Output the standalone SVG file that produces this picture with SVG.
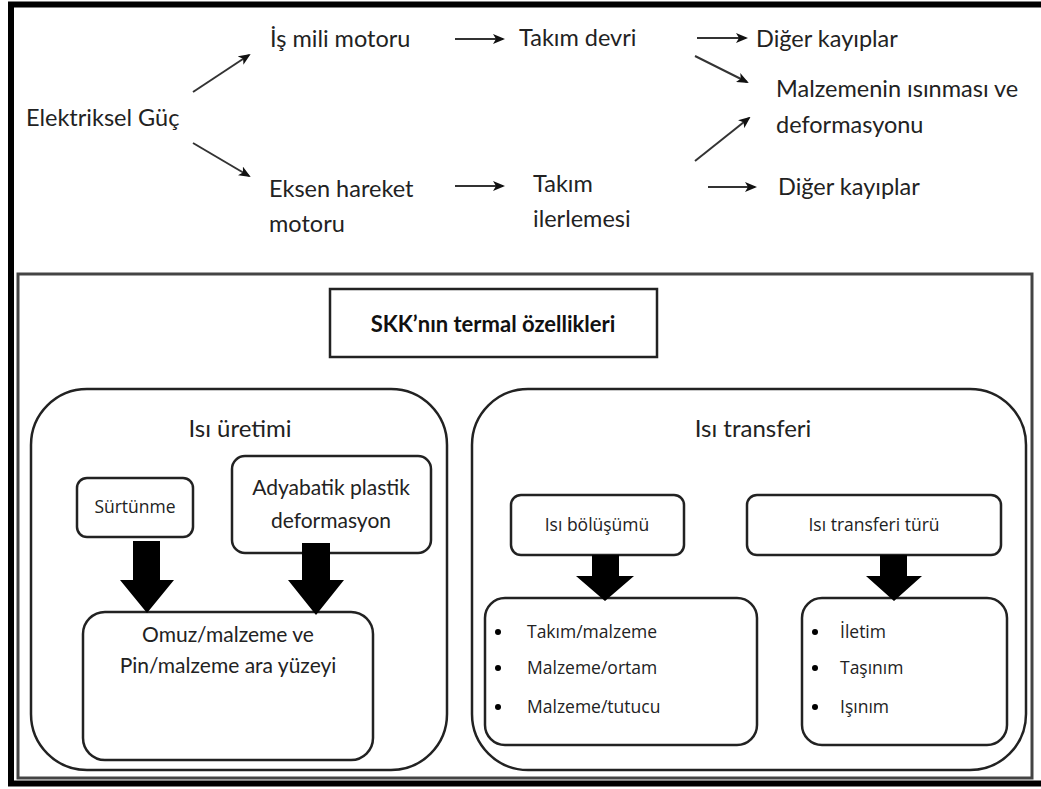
<svg xmlns="http://www.w3.org/2000/svg" width="1041" height="789" viewBox="0 0 1041 789">
<defs>
<marker id="ah" markerWidth="12" markerHeight="10" refX="10" refY="5" orient="auto" markerUnits="userSpaceOnUse">
<path d="M0,0 L12,5 L0,10 L3,5 z" fill="#111"/>
</marker>
<style>
.t{font-family:Lato,"Liberation Sans",sans-serif;font-size:23.5px;fill:#222}
.u{font-family:Lato,"Liberation Sans",sans-serif;font-size:24px;fill:#222}
.s{font-family:"Open Sans","Liberation Sans",sans-serif;font-size:17.5px;fill:#222}
.m{font-family:Lato,"Liberation Sans",sans-serif;font-size:21px;fill:#222}
.c{text-anchor:middle}
.box{fill:#fff;stroke:#222;stroke-width:2.5}
.ln{stroke:#333;stroke-width:2;fill:none;marker-end:url(#ah)}
.blk{fill:#000}
</style>
</defs>
<rect width="1041" height="789" fill="#fff"/>
<path d="M1041,4.5 H11 V783.5 H1041" fill="none" stroke="#000" stroke-width="6"/>
<rect x="18" y="274" width="1014" height="504" fill="none" stroke="#444" stroke-width="3"/>

<g id="n-elektriksel"><text class="t" x="26" y="126">Elektriksel Güç</text></g>
<g id="n-ismili"><text class="t" x="270" y="47">İş mili motoru</text></g>
<g id="n-eksen"><text class="t" x="269" y="197">Eksen hareket</text><text class="t" x="269" y="232">motoru</text></g>
<g id="n-takimdevri"><text class="t" x="519" y="46">Takım devri</text></g>
<g id="n-takimiler"><text class="t" x="533" y="192">Takım</text><text class="t" x="533" y="227">ilerlemesi</text></g>
<g id="n-diger1"><text class="t" x="756" y="47">Diğer kayıplar</text></g>
<g id="n-malzemenin"><text class="t" x="776" y="97">Malzemenin ısınması ve</text><text class="t" x="776" y="133">deformasyonu</text></g>
<g id="n-diger2"><text class="t" x="778" y="195">Diğer kayıplar</text></g>

<g id="n-skk"><rect x="330" y="289" width="327" height="68" fill="#fff" stroke="#222" stroke-width="2.5"/><text x="493" y="332" class="c" style="font-family:Lato,'Liberation Sans',sans-serif;font-size:22px;font-weight:bold;fill:#111">SKK’nın termal özellikleri</text></g>

<g id="n-isiuretimi"><rect class="box" x="31" y="389" width="416" height="381" rx="56"/><text class="u c" x="240" y="437">Isı üretimi</text></g>
<g id="n-isitransferi"><rect class="box" x="472" y="389" width="554" height="381" rx="56"/><text class="u c" x="753" y="437">Isı transferi</text></g>

<g id="n-surtunme"><rect class="box" x="77" y="478" width="116" height="59" rx="10"/><text class="s c" x="135" y="513">Sürtünme</text></g>
<g id="n-adyabatik"><rect class="box" x="232" y="456" width="199" height="97" rx="13"/><text class="m c" x="331" y="495">Adyabatik plastik</text><text class="m c" x="331" y="528">deformasyon</text></g>
<g id="n-omuz"><rect class="box" x="83" y="612" width="290" height="148" rx="22"/><text class="m c" x="228" y="642">Omuz/malzeme ve</text><text class="m c" x="228" y="673">Pin/malzeme ara yüzeyi</text></g>

<g id="n-bolusumu"><rect class="box" x="511" y="495" width="173" height="60" rx="10"/><text class="s c" x="597" y="531">Isı bölüşümü</text></g>
<g id="n-turu"><rect class="box" x="747" y="495" width="254" height="60" rx="10"/><text class="s c" x="874" y="531">Isı transferi türü</text></g>

<g id="n-list1"><rect class="box" x="485" y="598" width="272" height="147" rx="20"/>
<circle cx="498" cy="632" r="3" class="blk"/><circle cx="498" cy="668" r="3" class="blk"/><circle cx="498" cy="707" r="3" class="blk"/>
<text class="s" x="527" y="638">Takım/malzeme</text><text class="s" x="527" y="674">Malzeme/ortam</text><text class="s" x="527" y="713">Malzeme/tutucu</text></g>
<g id="n-list2"><rect class="box" x="802" y="598" width="205" height="147" rx="20"/>
<circle cx="815" cy="632" r="3" class="blk"/><circle cx="815" cy="668" r="3" class="blk"/><circle cx="815" cy="707" r="3" class="blk"/>
<text class="s" x="840" y="638">İletim</text><text class="s" x="840" y="674">Taşınım</text><text class="s" x="840" y="713">Işınım</text></g>

<g id="connectors">
<line class="ln" x1="193" y1="92" x2="249" y2="55"/>
<line class="ln" x1="193" y1="143" x2="249" y2="176"/>
<line class="ln" x1="455" y1="39" x2="503" y2="39"/>
<line class="ln" x1="455" y1="186" x2="503" y2="186"/>
<line class="ln" x1="697" y1="38" x2="746" y2="38"/>
<line class="ln" x1="695" y1="56" x2="747" y2="82"/>
<line class="ln" x1="695" y1="161" x2="749" y2="118"/>
<line class="ln" x1="708" y1="187" x2="755" y2="187"/>
<polygon class="blk" points="133,541 160,541 160,580 174,580 147,613 120,580 133,580"/>
<polygon class="blk" points="302,543 330,543 330,580 344,580 316,615 288,580 302,580"/>
<polygon class="blk" points="592,555 619,555 619,576 634,576 605,601 576,576 592,576"/>
<polygon class="blk" points="880,555 907,555 907,576 922,576 894,601 866,576 880,576"/>
</g>
</svg>
